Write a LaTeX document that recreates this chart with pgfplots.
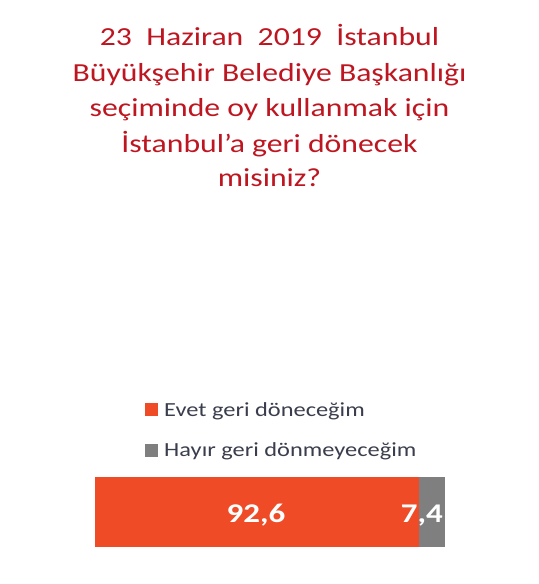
\documentclass[border=0pt]{standalone}
\usepackage{pgfplots}
\pgfplotsset{compat=1.18}
\usepackage{fontspec}
\setmainfont[FakeStretch=1.22]{Carlito}
\definecolor{titlered}{HTML}{BE1620}
\definecolor{barorange}{HTML}{EF4B26}
\definecolor{bargray}{HTML}{7F7F7F}
\definecolor{legtext}{HTML}{3A3D4C}
\begin{document}
\begin{tikzpicture}[x=1bp,y=1bp]
\path[use as bounding box] (0,0) rectangle (539,584);
\begin{scope}[font=\fontsize{26bp}{35bp}\selectfont, text=titlered]
\node[anchor=base] at (269.5,538) {23\ \ Haziran\ \ 2019\ \ İstanbul};
\node[anchor=base] at (269.5,502) {Büyükşehir Belediye Başkanlığı};
\node[anchor=base] at (269.5,467) {seçiminde oy kullanmak için};
\node[anchor=base] at (269.5,431) {İstanbul’a geri dönecek};
\node[anchor=base] at (269.5,397) {misiniz?};
\end{scope}
\begin{axis}[
  at={(95bp,37bp)}, anchor=south west,
  scale only axis, width=350bp, height=70bp,
  xbar stacked, bar width=70bp,
  xmin=0, xmax=100, ymin=-0.5, ymax=0.5,
  hide axis,
  legend style={draw=none, fill=none, at={(0.143,2.10)}, anchor=north west,
    inner sep=0pt, row sep=21bp, font=\fontsize{20bp}{24bp}\selectfont, text=legtext},
  legend cell align=left,
  legend image code/.code={\fill[#1] (0bp,-6.5bp) rectangle (13bp,6.5bp); \path (17bp,0);},
  clip=false,
]
\addplot[fill=barorange, draw=none] coordinates {(92.6,0)};
\addplot[fill=bargray, draw=none] coordinates {(7.4,0)};
\legend{Evet geri döneceğim, Hayır geri dönmeyeceğim}
\coordinate (la) at (axis cs:46.0,-0.157);
\coordinate (lb) at (axis cs:93.4,-0.157);
\end{axis}
\node[text=white, anchor=base, font=\bfseries\fontsize{27bp}{32bp}\selectfont] at (la) {92,6};
\node[text=white, anchor=base, font=\bfseries\fontsize{27bp}{32bp}\selectfont] at (lb) {7,4};
\end{tikzpicture}
\end{document}
